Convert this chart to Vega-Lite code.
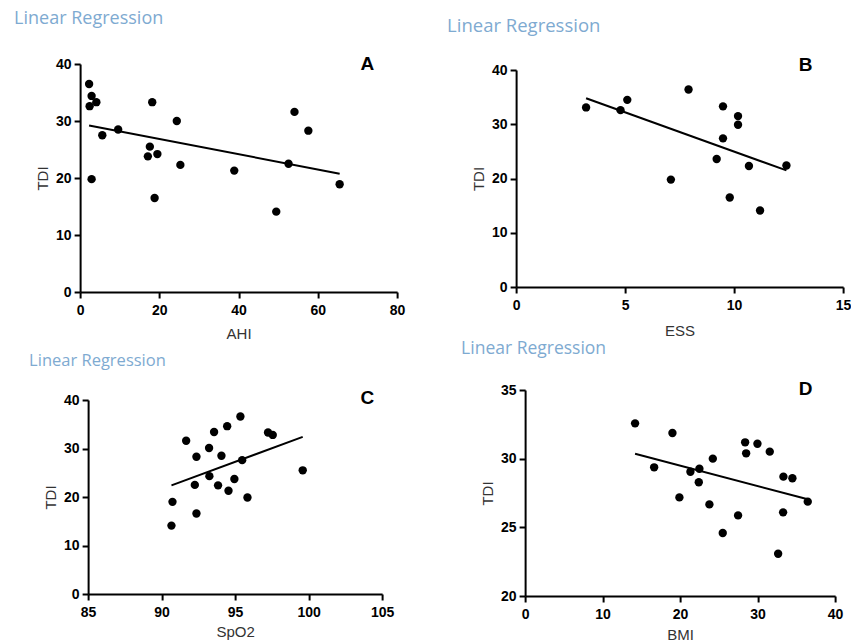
{
  "$schema": "https://vega.github.io/schema/vega-lite/v6.json",
  "padding": {"left": 14, "top": 10, "right": 0, "bottom": 0},
  "background": "white",
  "center": true,
  "spacing": -1,
  "config": {
    "view": {"stroke": null},
    "axis": {
      "grid": false,
      "domainColor": "black",
      "domainWidth": 2,
      "tickColor": "black",
      "tickWidth": 2,
      "tickSize": 6,
      "labelFont": "Liberation Sans",
      "labelFontWeight": "bold",
      "labelFontSize": 14,
      "labelColor": "black",
      "labelFlush": false,
      "labelOverlap": false,
      "titleFont": "Liberation Sans",
      "titleFontWeight": "normal",
      "titleFontSize": 15,
      "titleColor": "#333333"
    },
    "axisX": {"labelPadding": 5, "titlePadding": 7},
    "axisY": {"labelPadding": 3, "titlePadding": 5},
    "title": {"font": "Open Sans", "fontWeight": "normal", "color": "#7eaad1", "anchor": "start", "frame": "group"}
  },
  "vconcat": [
    {
      "spacing": 42,
      "hconcat": [
        {
          "width": 317, "height": 228,
          "title": {"text": "Linear Regression", "dx": -66, "offset": 27, "fontSize": 18},
          "data": {"values": [
            {"AHI": 2.27, "TDI": 36.5}, {"AHI": 2.9, "TDI": 34.4}, {"AHI": 4.1, "TDI": 33.3}, {"AHI": 2.4, "TDI": 32.6},
            {"AHI": 2.9, "TDI": 19.8}, {"AHI": 9.6, "TDI": 28.5}, {"AHI": 5.6, "TDI": 27.5}, {"AHI": 18.2, "TDI": 33.3},
            {"AHI": 17.6, "TDI": 25.5}, {"AHI": 17.1, "TDI": 23.8}, {"AHI": 19.5, "TDI": 24.2}, {"AHI": 18.8, "TDI": 16.5},
            {"AHI": 24.4, "TDI": 30.0}, {"AHI": 25.3, "TDI": 22.3}, {"AHI": 38.9, "TDI": 21.3}, {"AHI": 49.5, "TDI": 14.1},
            {"AHI": 52.6, "TDI": 22.5}, {"AHI": 54.1, "TDI": 31.6}, {"AHI": 57.6, "TDI": 28.3}, {"AHI": 65.5, "TDI": 18.9}
          ]},
          "layer": [
            {
              "mark": {"type": "point", "filled": true, "size": 70, "color": "black", "opacity": 1},
              "encoding": {
                "x": {"field": "AHI", "type": "quantitative", "scale": {"domain": [0, 80], "nice": false, "zero": false}, "axis": {"title": "AHI", "values": [0, 20, 40, 60, 80], "titlePadding": 9}},
                "y": {"field": "TDI", "type": "quantitative", "scale": {"domain": [0, 40], "nice": false, "zero": false}, "axis": {"title": "TDI", "values": [0, 10, 20, 30, 40]}}
              }
            },
            {
              "transform": [{"regression": "TDI", "on": "AHI"}],
              "mark": {"type": "line", "color": "black", "strokeWidth": 2},
              "encoding": {"x": {"field": "AHI", "type": "quantitative"}, "y": {"field": "TDI", "type": "quantitative"}}
            },
            {
              "data": {"values": [{"label": "A", "AHI": 72.5, "TDI": 40}]},
              "mark": {"type": "text", "font": "Liberation Sans", "fontWeight": "bold", "fontSize": 19, "color": "black", "align": "center", "baseline": "middle"},
              "encoding": {"x": {"field": "AHI", "type": "quantitative"}, "y": {"field": "TDI", "type": "quantitative"}, "text": {"field": "label"}}
            }
          ]
        },
        {
          "width": 327, "height": 223,
          "title": {"text": "Linear Regression", "dx": -69, "offset": 21, "fontSize": 18.5},
          "data": {"values": [
            {"ESS": 3.21, "TDI": 33.1}, {"ESS": 4.79, "TDI": 32.6}, {"ESS": 5.1, "TDI": 34.5}, {"ESS": 7.91, "TDI": 36.4},
            {"ESS": 7.1, "TDI": 19.8}, {"ESS": 9.49, "TDI": 33.3}, {"ESS": 9.49, "TDI": 27.4}, {"ESS": 9.2, "TDI": 23.6},
            {"ESS": 10.18, "TDI": 31.5}, {"ESS": 10.18, "TDI": 29.9}, {"ESS": 10.68, "TDI": 22.3}, {"ESS": 9.8, "TDI": 16.5},
            {"ESS": 11.19, "TDI": 14.1}, {"ESS": 12.4, "TDI": 22.4}
          ]},
          "layer": [
            {
              "mark": {"type": "point", "filled": true, "size": 70, "color": "black", "opacity": 1},
              "encoding": {
                "x": {"field": "ESS", "type": "quantitative", "scale": {"domain": [0, 15], "nice": false, "zero": false}, "axis": {"title": "ESS", "values": [0, 5, 10, 15], "titlePadding": 11}},
                "y": {"field": "TDI", "type": "quantitative", "scale": {"domain": [0, 40], "nice": false, "zero": false, "range": [223, 6]}, "axis": {"title": "TDI", "values": [0, 10, 20, 30, 40]}}
              }
            },
            {
              "transform": [{"regression": "TDI", "on": "ESS"}],
              "mark": {"type": "line", "color": "black", "strokeWidth": 2},
              "encoding": {"x": {"field": "ESS", "type": "quantitative"}, "y": {"field": "TDI", "type": "quantitative"}}
            },
            {
              "data": {"values": [{"label": "B", "ESS": 13.28, "TDI": 40.9}]},
              "mark": {"type": "text", "font": "Liberation Sans", "fontWeight": "bold", "fontSize": 19, "color": "black", "align": "center", "baseline": "middle"},
              "encoding": {"x": {"field": "ESS", "type": "quantitative"}, "y": {"field": "TDI", "type": "quantitative"}, "text": {"field": "label"}}
            }
          ]
        }
      ]
    },
    {
      "spacing": 67,
      "hconcat": [
        {
          "width": 294, "height": 204,
          "title": {"text": "Linear Regression", "dx": -59, "offset": 20, "fontSize": 16.5},
          "data": {"values": [
            {"SpO2": 90.67, "TDI": 14.1}, {"SpO2": 90.74, "TDI": 19.0}, {"SpO2": 91.67, "TDI": 31.6}, {"SpO2": 92.37, "TDI": 28.3},
            {"SpO2": 92.26, "TDI": 22.5}, {"SpO2": 92.37, "TDI": 16.6}, {"SpO2": 93.23, "TDI": 30.1}, {"SpO2": 93.57, "TDI": 33.4},
            {"SpO2": 93.25, "TDI": 24.3}, {"SpO2": 94.07, "TDI": 28.5}, {"SpO2": 93.84, "TDI": 22.4}, {"SpO2": 94.46, "TDI": 34.6},
            {"SpO2": 94.55, "TDI": 21.3}, {"SpO2": 94.95, "TDI": 23.7}, {"SpO2": 95.36, "TDI": 36.6}, {"SpO2": 95.48, "TDI": 27.6},
            {"SpO2": 95.84, "TDI": 19.9}, {"SpO2": 97.24, "TDI": 33.3}, {"SpO2": 97.56, "TDI": 32.8}, {"SpO2": 99.6, "TDI": 25.5}
          ]},
          "layer": [
            {
              "mark": {"type": "point", "filled": true, "size": 70, "color": "black", "opacity": 1},
              "encoding": {
                "x": {"field": "SpO2", "type": "quantitative", "scale": {"domain": [85, 105], "nice": false, "zero": false}, "axis": {"title": "SpO2", "values": [85, 90, 95, 100, 105], "titlePadding": 5}},
                "y": {"field": "TDI", "type": "quantitative", "scale": {"domain": [0, 40], "nice": false, "zero": false, "range": [204, 10]}, "axis": {"title": "TDI", "values": [0, 10, 20, 30, 40]}}
              }
            },
            {
              "transform": [{"regression": "TDI", "on": "SpO2"}],
              "mark": {"type": "line", "color": "black", "strokeWidth": 2},
              "encoding": {"x": {"field": "SpO2", "type": "quantitative"}, "y": {"field": "TDI", "type": "quantitative"}}
            },
            {
              "data": {"values": [{"label": "C", "SpO2": 104.0, "TDI": 40.4}]},
              "mark": {"type": "text", "font": "Liberation Sans", "fontWeight": "bold", "fontSize": 19, "color": "black", "align": "center", "baseline": "middle"},
              "encoding": {"x": {"field": "SpO2", "type": "quantitative"}, "y": {"field": "TDI", "type": "quantitative"}, "text": {"field": "label"}}
            }
          ]
        },
        {
          "width": 310, "height": 206,
          "title": {"text": "Linear Regression", "dx": -64, "offset": 22, "fontSize": 17.5},
          "data": {"values": [
            {"BMI": 14.19, "TDI": 32.57}, {"BMI": 16.65, "TDI": 29.37}, {"BMI": 19.01, "TDI": 31.87}, {"BMI": 19.91, "TDI": 27.18},
            {"BMI": 21.33, "TDI": 29.05}, {"BMI": 22.49, "TDI": 29.27}, {"BMI": 22.41, "TDI": 28.28}, {"BMI": 23.78, "TDI": 26.67},
            {"BMI": 24.22, "TDI": 30.0}, {"BMI": 25.5, "TDI": 24.59}, {"BMI": 27.48, "TDI": 25.87}, {"BMI": 28.39, "TDI": 31.19},
            {"BMI": 28.52, "TDI": 30.39}, {"BMI": 29.98, "TDI": 31.09}, {"BMI": 31.57, "TDI": 30.51}, {"BMI": 33.33, "TDI": 28.69},
            {"BMI": 34.49, "TDI": 28.57}, {"BMI": 33.29, "TDI": 26.09}, {"BMI": 32.65, "TDI": 23.08}, {"BMI": 36.47, "TDI": 26.87}
          ]},
          "layer": [
            {
              "mark": {"type": "point", "filled": true, "size": 70, "color": "black", "opacity": 1},
              "encoding": {
                "x": {"field": "BMI", "type": "quantitative", "scale": {"domain": [0, 40], "nice": false, "zero": false}, "axis": {"title": "BMI", "values": [0, 10, 20, 30, 40], "titlePadding": 6}},
                "y": {"field": "TDI", "type": "quantitative", "scale": {"domain": [20, 35], "nice": false, "zero": false}, "axis": {"title": "TDI", "values": [20, 25, 30, 35]}}
              }
            },
            {
              "transform": [{"regression": "TDI", "on": "BMI"}],
              "mark": {"type": "line", "color": "black", "strokeWidth": 2},
              "encoding": {"x": {"field": "BMI", "type": "quantitative"}, "y": {"field": "TDI", "type": "quantitative"}}
            },
            {
              "data": {"values": [{"label": "D", "BMI": 36.2, "TDI": 35.1}]},
              "mark": {"type": "text", "font": "Liberation Sans", "fontWeight": "bold", "fontSize": 19, "color": "black", "align": "center", "baseline": "middle"},
              "encoding": {"x": {"field": "BMI", "type": "quantitative"}, "y": {"field": "TDI", "type": "quantitative"}, "text": {"field": "label"}}
            }
          ]
        }
      ]
    }
  ]
}
